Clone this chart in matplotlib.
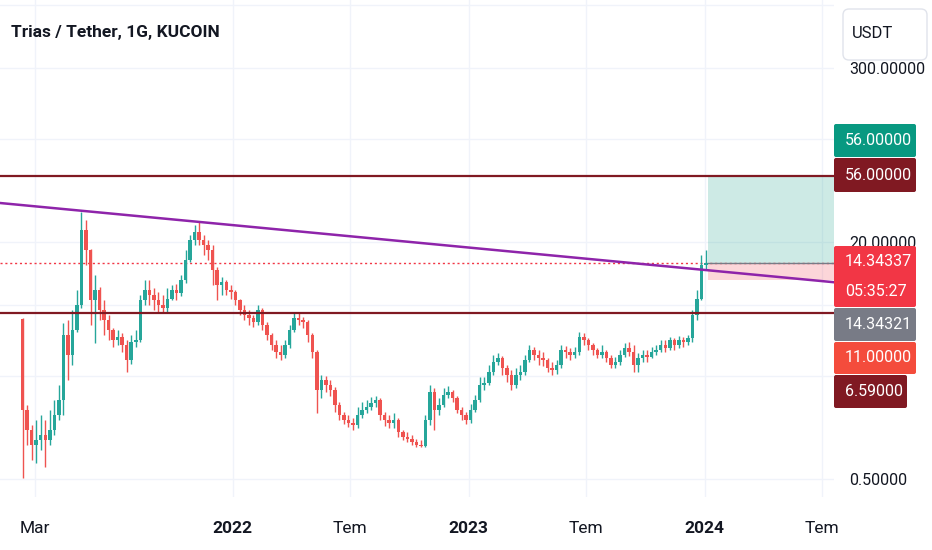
import numpy as np
import pandas as pd
import matplotlib
matplotlib.use("Agg")
import matplotlib.pyplot as plt
import matplotlib.dates as mdates
from matplotlib.patches import FancyBboxPatch
from matplotlib.ticker import NullLocator

plt.rcParams['font.family'] = ['Roboto', 'DejaVu Sans']

# weekly candles (TRIAS/USDT, log scale)
first_open = 6.0
closes = [1.47, 1.07, 0.85, 0.92, 0.99, 0.92, 1.07, 1.36, 1.71, 4.71,
          3.45, 5.09, 7.51, 24.1, 17.7, 8.11, 9.48, 6.95, 5.94, 5.09,
          4.35, 4.56, 4.03, 3.19, 4.22, 4.35, 8.11, 9.48, 8.77, 8.11,
          7.51, 7.2, 8.3, 9.48, 9.06, 11.1, 15.1, 20.6, 23.4, 20.6,
          19.1, 17.7, 12.9, 10.25, 10.7, 9.48, 9.2, 8.11, 6.95, 6.43,
          6.13, 5.76, 6.95, 5.50, 4.71, 4.03, 3.62, 3.45, 4.03, 5.09,
          6.13, 5.94, 5.76, 4.71, 3.62, 2.00, 2.34, 2.16, 2.00, 1.58,
          1.36, 1.25, 1.20, 1.16, 1.36, 1.47, 1.53, 1.63, 1.71, 1.36,
          1.25, 1.20, 1.25, 1.04, 0.97, 0.94, 0.89, 0.85, 0.84, 1.25,
          1.94, 1.47, 1.58, 1.85, 1.94, 1.77, 1.47, 1.36, 1.25, 1.47,
          1.71, 2.16, 2.23, 2.65, 3.09, 3.29, 2.82, 2.53, 2.16, 2.53,
          2.65, 3.19, 3.73, 3.45, 3.29, 3.19, 2.82, 2.73, 2.95, 3.73,
          3.62, 3.45, 3.62, 4.56, 4.35, 4.03, 3.73, 3.45, 3.62, 3.29,
          2.95, 3.09, 3.45, 3.85, 3.62, 2.95, 3.29, 3.45, 3.34, 3.62,
          3.73, 4.03, 3.85, 4.35, 4.03, 4.35, 4.22, 4.49, 6.43, 8.3,
          14.0, 14.34]
highs = [6.13, 1.58, 1.16, 1.25, 1.36, 1.25, 1.47, 1.71, 2.16, 5.67,
         5.94, 6.95, 9.48, 31.9, 28.1, 18.0, 12.0, 9.9, 8.11, 6.43,
         5.25, 5.09, 4.86, 4.35, 4.71, 5.09, 8.77, 11.1, 11.1, 9.8,
         9.2, 8.77, 9.8, 10.25, 10.4, 12.0, 17.7, 22.3, 26.0, 27.3,
         22.3, 20.6, 19.1, 13.5, 11.6, 11.1, 10.25, 9.48, 8.3, 7.51,
         6.95, 6.43, 7.51, 7.2, 5.76, 4.86, 4.35, 4.03, 4.35, 5.50,
         6.73, 6.62, 6.23, 5.94, 4.86, 3.73, 2.53, 2.49, 2.34, 2.1,
         1.66, 1.43, 1.36, 1.30, 1.53, 1.66, 1.71, 1.80, 1.82, 1.77,
         1.43, 1.36, 1.39, 1.30, 1.07, 1.04, 0.99, 0.94, 0.92, 1.36,
         2.16, 2.06, 1.77, 2.06, 2.13, 2.00, 1.82, 1.53, 1.43, 1.61,
         1.85, 2.45, 2.45, 2.95, 3.45, 3.56, 3.4, 2.95, 2.73, 2.82,
         2.95, 3.45, 4.03, 3.91, 3.73, 3.62, 3.29, 3.09, 3.19, 4.03,
         3.97, 3.85, 3.91, 4.94, 4.86, 4.49, 4.15, 3.85, 4.03, 3.73,
         3.45, 3.34, 3.73, 4.15, 4.22, 4.03, 3.56, 3.73, 3.73, 3.91,
         4.03, 4.35, 4.35, 4.56, 4.49, 4.63, 4.56, 4.71, 6.95, 9.48,
         16.3, 17.7]
lows = [0.51, 0.85, 0.67, 0.64, 0.79, 0.60, 0.85, 1.0, 1.25, 1.36,
        2.34, 2.95, 4.9, 7.2, 14.0, 5.50, 4.15, 5.94, 4.71, 4.35,
        3.91, 4.03, 3.62, 2.65, 3.0, 3.91, 4.2, 7.51, 7.51, 6.95,
        6.73, 6.62, 6.73, 8.11, 8.11, 8.6, 10.6, 14.6, 19.1, 19.1,
        16.3, 15.1, 10.25, 8.11, 8.77, 8.77, 8.3, 7.51, 6.43, 5.94,
        5.50, 5.33, 5.50, 5.09, 4.35, 3.73, 3.29, 3.19, 3.3, 3.85,
        4.94, 5.50, 5.25, 4.22, 3.29, 1.41, 1.77, 1.94, 1.82, 1.43,
        1.25, 1.18, 1.12, 1.07, 1.10, 1.30, 1.39, 1.47, 1.53, 1.25,
        1.14, 1.10, 1.10, 0.97, 0.92, 0.89, 0.85, 0.83, 0.82, 0.83,
        1.16, 1.07, 1.36, 1.53, 1.77, 1.66, 1.39, 1.25, 1.18, 1.20,
        1.42, 1.66, 2.00, 2.16, 2.53, 2.95, 2.53, 2.27, 2.00, 2.06,
        2.34, 2.53, 3.09, 3.19, 2.95, 2.91, 2.65, 2.53, 2.57, 2.82,
        3.29, 3.19, 3.29, 3.45, 4.03, 3.73, 3.45, 3.29, 3.29, 3.09,
        2.82, 2.82, 2.95, 3.35, 3.40, 2.65, 2.65, 3.09, 3.09, 3.29,
        3.45, 3.62, 3.62, 3.73, 3.73, 3.85, 3.91, 4.03, 4.22, 5.94,
        8.11, 12.9]
dates = pd.date_range("2021-02-10", periods=len(closes), freq="7D")

# drawings
resistance = 56.0
support = 6.59
entry = 14.34337
stop = 11.0
trend_pts = [("2021-01-06", 36.7), ("2024-07-19", 10.7)]
pos_start = "2024-01-06"

xticks = ["2021-03-01", "2022-01-01", "2022-07-01", "2023-01-01",
          "2023-07-01", "2024-01-01", "2024-07-01"]
xtick_labels = ["Mar", "2022", "Tem", "2023", "Tem", "2024", "Tem"]
yticks = [0.5, 2.5, 7.5, 20, 100, 300, 800]
ytick_shown = [0.5, 20, 300]   # the rest sit under the price labels

UP, DOWN = "#26a69a", "#ef5350"
MAROON = "#801922"
TXT = "#131722"

fig = plt.figure(figsize=(9.32, 5.5), dpi=100)
W, H = 932, 550
ax = fig.add_axes([0, (H - 497) / H, 834 / W, 497 / H])

x = mdates.date2num(dates)
opens = np.array([first_open] + closes[:-1])
c = np.array(closes)
up = c >= opens
cols = np.where(up, UP, DOWN)
ax.vlines(x, lows, highs, colors=cols, lw=1.0, zorder=3)
ax.bar(x, np.abs(c - opens), bottom=np.minimum(c, opens), width=5.4,
       color=cols, lw=0, zorder=4)

ax.set_yscale("log")
x0 = mdates.date2num(pd.Timestamp("2021-01-06"))
x1 = mdates.date2num(pd.Timestamp("2024-07-19"))
ax.set_xlim(x0, x1)
ax.set_ylim(0.379, 863)

# horizontal levels and trend line
ax.axhline(resistance, color=MAROON, lw=1.6, zorder=5)
ax.axhline(support, color=MAROON, lw=1.6, zorder=5)
ax.axhline(entry, color="#f23645", lw=1, ls=(0, (1.5, 2)), zorder=2)
tx = [mdates.date2num(pd.Timestamp(d)) for d, _ in trend_pts]
ty = [p for _, p in trend_pts]
ax.plot(tx, ty, color="#8e24aa", lw=1.8, zorder=6)

# long position box
ps = mdates.date2num(pd.Timestamp(pos_start))
ax.fill_between([ps, x1], entry, resistance, color="#089981", alpha=0.2, lw=0, zorder=1)
ax.fill_between([ps, x1], stop, entry, color="#f23645", alpha=0.2, lw=0, zorder=1)
ax.plot([ps, x1], [entry, entry], color="#787b86", lw=1, zorder=2)

# axes styling
for s in ax.spines.values():
    s.set_visible(False)
ax.yaxis.tick_right()
ax.set_yticks(yticks)
ax.yaxis.set_minor_locator(NullLocator())
ax.set_yticklabels([f"{v:.5f}" if v in ytick_shown else "" for v in yticks])
ax.tick_params(axis="y", length=0, pad=11, labelsize=11.5, colors=TXT)
ax.set_xticks([mdates.date2num(pd.Timestamp(d)) for d in xticks])
ax.set_xticklabels(xtick_labels)
ax.tick_params(axis="x", length=0, pad=17, labelsize=12.5, colors=TXT)
for lbl in ax.get_xticklabels():
    if lbl.get_text().isdigit():
        lbl.set_fontweight("bold")
ax.grid(True, color="#f0f3fa", lw=1, zorder=0)
ax.set_axisbelow(True)

# overlay for header and price labels (pixel coords)
ov = fig.add_axes([0, 0, 1, 1], facecolor="none")
ov.set_xlim(0, W)
ov.set_ylim(H, 0)
ov.axis("off")

ov.text(11, 33, "Trias / Tether, 1G, KUCOIN", fontsize=12.5, fontweight="bold",
        color=TXT, va="center", ha="left")
ov.add_patch(FancyBboxPatch((843, 9), 84, 51, boxstyle="round,pad=0,rounding_size=6",
                            fc="white", ec="#e0e3eb", lw=1))
ov.text(852, 34, "USDT", fontsize=12, color=TXT, va="center", ha="left")

labels = [
    (124, 157, 916, "#089981", ["56.00000"]),
    (158, 192, 916, MAROON, ["56.00000"]),
    (246, 307, 916, "#f23645", ["14.34337", "05:35:27"]),
    (308, 341, 916, "#787b86", ["14.34321"]),
    (342, 374, 916, "#f44c3c", ["11.00000"]),
    (375, 408, 907, MAROON, ["6.59000"]),
]
for top, bot, right, col, texts in labels:
    ov.add_patch(FancyBboxPatch((834, top), right - 834, bot - top,
                                boxstyle="round,pad=0,rounding_size=2",
                                fc=col, ec="none"))
    n = len(texts)
    for k, t in enumerate(texts):
        yc = top + (bot - top) * (k + 0.5) / n
        ov.text(845, yc, t, fontsize=11.5, color="white", va="center", ha="left")

fig.savefig("out.png", dpi=100)
